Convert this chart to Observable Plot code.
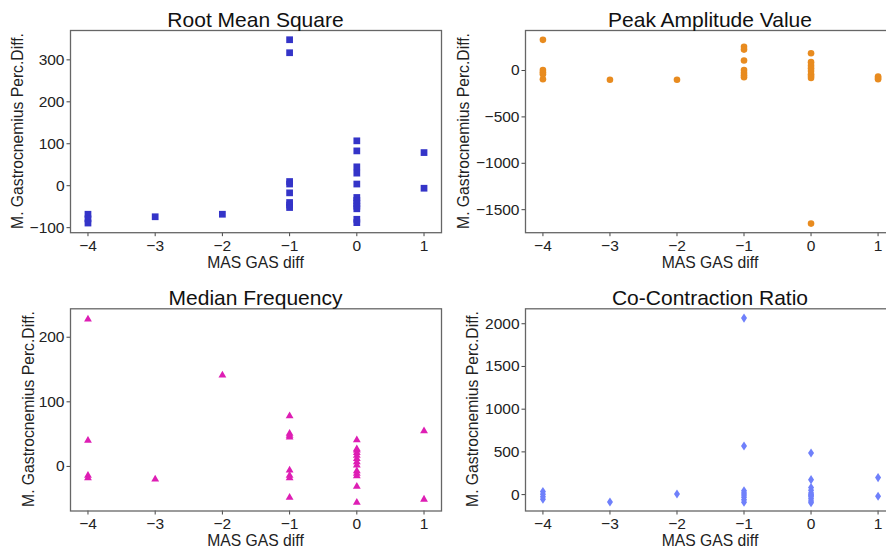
<!DOCTYPE html>
<html>
<head>
<meta charset="utf-8">
<script src="https://cdn.jsdelivr.net/npm/d3@7"></script>
<script src="https://cdn.jsdelivr.net/npm/@observablehq/plot@0.6"></script>
<style>
  html, body { margin: 0; padding: 0; background: #fff; overflow: hidden; }
  #wrap { position: relative; width: 886px; height: 552px; overflow: hidden; font-family: "Liberation Sans", Arial, sans-serif; color: #222; }
  .panel { position: absolute; }
  .title { position: absolute; font-size: 21px; line-height: 21px; color: #111; white-space: nowrap; transform: translateX(-50%); }
  .xlab { position: absolute; font-size: 15.7px; line-height: 15.7px; color: #222; white-space: nowrap; transform: translateX(-50%); }
  .ylab { position: absolute; font-size: 15.7px; line-height: 15.7px; color: #222; white-space: nowrap; transform: translate(-50%, -50%) rotate(-90deg); }
</style>
</head>
<body>
<div id="wrap"></div>
<script>
// ---- data ----
const xTicks = [-4, -3, -2, -1, 0, 1];
const xLabel = "MAS GAS diff";
const yLabel = "M. Gastrocnemius Perc.Diff.";

const rmsTitle = "Root Mean Square";
const rmsX = [-4, -4, -4, -3, -2,
  -1, -1, -1, -1, -1, -1, -1, -1,
  0, 0, 0, 0, 0, 0, 0, 0, 0, 0, 0, 0,
  1, 1];
const rmsY = [-68, -79, -89, -74, -68,
  348, 317, 10, 4, -17, -40, -46, -52,
  107, 83, 45, 30, 4, -28, -35, -42, -49, -55, -80, -88,
  79, -6];
const rmsYTicks = [-100, 0, 100, 200, 300];

const peakTitle = "Peak Amplitude Value";
const peakX = [-4, -4, -4, -4, -4, -3, -2,
  -1, -1, -1, -1, -1, -1, -1,
  0, 0, 0, 0, 0, 0, 0, 0, 0,
  1, 1, 1];
const peakY = [330, 5, -20, -40, -95, -100, -100,
  255, 225, 108, 5, -25, -50, -72,
  186, 90, 55, 25, -5, -40, -60, -80, -1650,
  -65, -80, -95];
const peakYTicks = [-1500, -1000, -500, 0];

const mfTitle = "Median Frequency";
const mfX = [-4, -4, -4, -4, -3, -2,
  -1, -1, -1, -1, -1, -1, -1, -1,
  0, 0, 0, 0, 0, 0, 0, 0, 0, 0, 0, 0, 0,
  1, 1];
const mfY = [228, 40, -14, -18, -20, 141,
  78, 51, 48, 45, -6, -14, -18, -48,
  41, 27, 25, 21, 17, 12, 7, 2, -7, -11, -15, -31, -56,
  55, -51];
const mfYTicks = [0, 100, 200];

const ccrTitle = "Co-Contraction Ratio";
const ccrX = [-4, -4, -4, -4, -3, -2,
  -1, -1, -1, -1, -1, -1, -1, -1,
  0, 0, 0, 0, 0, 0, 0, 0, 0, 0, 0,
  1, 1];
const ccrY = [35, 5, -25, -55, -87, 7,
  2066, 569, 45, 20, -5, -30, -60, -90,
  487, 175, 82, 50, 20, 0, -25, -50, -75, -95, -10,
  199, -20];
const ccrYTicks = [0, 500, 1000, 1500, 2000];

// ---- drawing ----
const fmt = d => (d < 0 ? "\u2212" : "") + Math.abs(d);

const thinDiamond = {
  draw(ctx, size) {
    const r = Math.sqrt(size / Math.PI);
    const h = r * 1.3, w = r * 0.86;
    ctx.moveTo(0, -h); ctx.lineTo(w, 0); ctx.lineTo(0, h); ctx.lineTo(-w, 0); ctx.closePath();
  }
};

const panels = [
  {title: rmsTitle, xs: rmsX, ys: rmsY, yTicks: rmsYTicks, yDomain: [-112, 370], symbol: "square", r: 3.8, color: "#3434c8",
   left: 0, top: 0, width: 443, mL: 70, mT: 30, ylx: 17.5},
  {title: peakTitle, xs: peakX, ys: peakY, yTicks: peakYTicks, yDomain: [-1748, 431], symbol: "circle", r: 3.3, color: "#e88b1f",
   left: 443, top: 0, width: 454, mL: 82, mT: 30, ylx: 464},
  {title: mfTitle, xs: mfX, ys: mfY, yTicks: mfYTicks, yDomain: [-69, 244], symbol: "triangle", r: 2.9, color: "#de1eb4",
   left: 0, top: 280, width: 443, mL: 70, mT: 28.3, ylx: 29},
  {title: ccrTitle, xs: ccrX, ys: ccrY, yTicks: ccrYTicks, yDomain: [-192, 2175], symbol: thinDiamond, r: 3.5, color: "#6f80fb",
   left: 443, top: 280, width: 454, mL: 82, mT: 28.3, ylx: 473}
];

const wrap = document.getElementById("wrap");
const H = 280;

for (const p of panels) {
  const mB = H - (p.mT + 202.2);
  const data = p.xs.map((x, i) => ({x, y: p.ys[i]}));
  const chart = Plot.plot({
    width: p.width,
    height: H,
    marginLeft: p.mL,
    marginRight: 2,
    marginTop: p.mT,
    marginBottom: mB,
    style: {fontFamily: "'Liberation Sans', Arial, sans-serif", fontSize: "15.5px", color: "#222", background: "transparent", overflow: "visible"},
    x: {domain: [-4.26, 1.26]},
    y: {domain: p.yDomain},
    marks: [
      Plot.axisX({ticks: xTicks, tickFormat: fmt, tickSize: 4, tickPadding: 3, label: null, stroke: "#444"}),
      Plot.axisY({ticks: p.yTicks, tickFormat: fmt, tickSize: 3.5, tickPadding: 2.5, label: null, stroke: "#444"}),
      Plot.dot(data, {x: "x", y: "y", symbol: () => p.symbol, r: p.r, fill: p.color, stroke: "none"}),
      Plot.frame({stroke: "#666", strokeWidth: 1.3})
    ]
  });
  chart.classList.add("panel");
  chart.style.left = p.left + "px";
  chart.style.top = p.top + "px";
  wrap.appendChild(chart);

  const frameL = p.left + p.mL, frameR = p.left + p.width - 2;
  const cx = (frameL + frameR) / 2;
  const frameTop = p.top + p.mT, frameBot = frameTop + 202.2;

  const t = document.createElement("div");
  t.className = "title";
  t.textContent = p.title;
  t.style.left = cx + "px";
  t.style.top = (frameTop - 21) + "px";
  wrap.appendChild(t);

  const xl = document.createElement("div");
  xl.className = "xlab";
  xl.textContent = xLabel;
  xl.style.left = cx + "px";
  xl.style.top = (frameBot + 22.5) + "px";
  wrap.appendChild(xl);

  const yl = document.createElement("div");
  yl.className = "ylab";
  yl.textContent = yLabel;
  yl.style.left = p.ylx + "px";
  yl.style.top = ((frameTop + frameBot) / 2) + "px";
  wrap.appendChild(yl);
}
</script>
</body>
</html>
